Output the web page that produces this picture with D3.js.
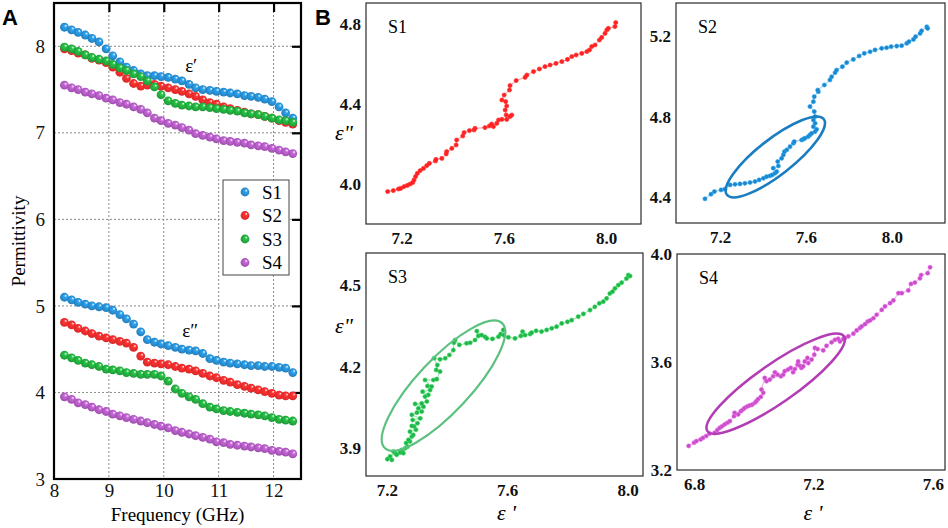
<!DOCTYPE html>
<html>
<head>
<meta charset="utf-8">
<script src="https://cdn.jsdelivr.net/npm/d3@7"></script>
<style>
  body { margin: 0; background: #fff; }
  svg { display: block; }
</style>
</head>
<body>
<script>
// ---- panel A data (frequency in GHz) ----
const freq = [8.19, 8.32, 8.44, 8.57, 8.69, 8.82, 8.95, 9.07, 9.20, 9.32, 9.45, 9.58, 9.70, 9.83, 9.95, 10.08, 10.21,
              10.33, 10.46, 10.58, 10.71, 10.84, 10.96, 11.09, 11.21, 11.34, 11.47, 11.59, 11.72, 11.84, 11.97, 12.10, 12.22, 12.35];

const s1Real = [8.22, 8.19, 8.16, 8.13, 8.09, 8.05, 7.97, 7.89, 7.82, 7.76, 7.72, 7.68, 7.66, 7.66, 7.65, 7.64, 7.62,
                7.60, 7.56, 7.52, 7.50, 7.49, 7.48, 7.47, 7.46, 7.45, 7.43, 7.42, 7.41, 7.39, 7.36, 7.30, 7.23, 7.17];
const s2Real = [7.97, 7.95, 7.92, 7.90, 7.86, 7.84, 7.81, 7.76, 7.70, 7.63, 7.57, 7.54, 7.55, 7.56, 7.54, 7.52, 7.50,
                7.48, 7.45, 7.42, 7.38, 7.35, 7.33, 7.30, 7.28, 7.26, 7.24, 7.22, 7.21, 7.19, 7.17, 7.14, 7.12, 7.10];
const s3Real = [7.99, 7.97, 7.94, 7.90, 7.87, 7.85, 7.83, 7.79, 7.75, 7.72, 7.68, 7.65, 7.60, 7.53, 7.44, 7.37, 7.34,
                7.32, 7.31, 7.30, 7.30, 7.29, 7.28, 7.27, 7.26, 7.25, 7.23, 7.22, 7.21, 7.19, 7.17, 7.15, 7.14, 7.12];
const s4Real = [7.55, 7.52, 7.50, 7.47, 7.45, 7.43, 7.40, 7.38, 7.35, 7.33, 7.30, 7.27, 7.23, 7.17, 7.14, 7.11, 7.09,
                7.06, 7.03, 6.99, 6.97, 6.95, 6.93, 6.91, 6.90, 6.89, 6.88, 6.86, 6.85, 6.84, 6.82, 6.80, 6.78, 6.76];

const s1Imag = [5.10, 5.07, 5.04, 5.02, 5.00, 4.99, 4.98, 4.95, 4.90, 4.85, 4.79, 4.70, 4.61, 4.58, 4.56, 4.54, 4.52,
                4.50, 4.49, 4.48, 4.45, 4.39, 4.37, 4.35, 4.34, 4.33, 4.32, 4.31, 4.31, 4.30, 4.30, 4.29, 4.28, 4.23];
const s2Imag = [4.81, 4.78, 4.74, 4.71, 4.68, 4.65, 4.63, 4.61, 4.59, 4.57, 4.52, 4.42, 4.35, 4.34, 4.33, 4.32, 4.30,
                4.28, 4.27, 4.25, 4.22, 4.19, 4.17, 4.14, 4.12, 4.09, 4.07, 4.05, 4.03, 4.01, 3.99, 3.97, 3.96, 3.96];
const s3Imag = [4.43, 4.40, 4.37, 4.34, 4.32, 4.30, 4.27, 4.26, 4.25, 4.23, 4.22, 4.21, 4.21, 4.21, 4.19, 4.13, 4.04,
                3.99, 3.95, 3.92, 3.87, 3.83, 3.81, 3.79, 3.78, 3.77, 3.76, 3.75, 3.74, 3.73, 3.71, 3.69, 3.68, 3.67];
const s4Imag = [3.95, 3.92, 3.88, 3.86, 3.83, 3.80, 3.78, 3.75, 3.73, 3.71, 3.69, 3.67, 3.65, 3.63, 3.61, 3.59, 3.56,
                3.54, 3.52, 3.50, 3.48, 3.46, 3.43, 3.42, 3.40, 3.39, 3.38, 3.37, 3.36, 3.35, 3.33, 3.32, 3.31, 3.29];

const seriesNames = ["S1", "S2", "S3", "S4"];
const aXTicks = [8, 9, 10, 11, 12];
const aYTicks = [3, 4, 5, 6, 7, 8];

// ---- panel B data: [eps', eps''] ----
const b1 = [[7.145,3.962],[7.167,3.967],[7.187,3.975],[7.196,3.978],[7.209,3.987],[7.222,3.993],[7.233,4.000],[7.243,4.007],
  [7.248,4.020],[7.254,4.037],[7.261,4.053],[7.272,4.067],[7.285,4.078],[7.298,4.092],[7.308,4.103],[7.332,4.115],[7.334,4.123],
  [7.357,4.128],[7.374,4.150],[7.376,4.162],[7.396,4.178],[7.413,4.195],[7.415,4.220],[7.439,4.240],[7.444,4.257],[7.465,4.267],
  [7.483,4.270],[7.487,4.278],[7.526,4.282],[7.543,4.290],[7.552,4.300],[7.559,4.287],[7.572,4.303],[7.579,4.320],[7.592,4.323],
  [7.611,4.323],[7.624,4.337],[7.631,4.345],[7.609,4.345],[7.605,4.370],[7.611,4.390],[7.607,4.412],[7.592,4.420],[7.601,4.445],
  [7.622,4.470],[7.624,4.492],[7.648,4.517],[7.683,4.533],[7.690,4.545],[7.716,4.562],[7.739,4.575],[7.761,4.587],[7.781,4.595],
  [7.804,4.603],[7.827,4.612],[7.849,4.623],[7.866,4.637],[7.883,4.645],[7.905,4.653],[7.925,4.662],[7.935,4.670],[7.944,4.687],
  [7.957,4.695],[7.974,4.720],[7.983,4.733],[7.996,4.753],[8.003,4.770],[8.009,4.778],[8.035,4.787],[8.038,4.807]];
const b2 = [[7.130,4.392],[7.158,4.415],[7.174,4.428],[7.205,4.436],[7.223,4.440],[7.247,4.461],[7.270,4.464],[7.293,4.466],
  [7.316,4.469],[7.340,4.473],[7.363,4.478],[7.382,4.486],[7.402,4.494],[7.417,4.502],[7.433,4.506],[7.444,4.511],[7.456,4.519],
  [7.464,4.527],[7.448,4.544],[7.472,4.555],[7.469,4.577],[7.487,4.593],[7.495,4.610],[7.500,4.626],[7.511,4.635],[7.526,4.651],
  [7.542,4.668],[7.546,4.676],[7.580,4.684],[7.588,4.688],[7.596,4.693],[7.611,4.701],[7.619,4.709],[7.627,4.717],[7.643,4.726],
  [7.650,4.737],[7.635,4.750],[7.643,4.767],[7.635,4.783],[7.643,4.800],[7.639,4.825],[7.619,4.850],[7.635,4.874],[7.639,4.899],
  [7.658,4.924],[7.655,4.932],[7.686,4.957],[7.712,4.982],[7.720,4.998],[7.736,5.018],[7.743,5.031],[7.770,5.048],[7.790,5.068],
  [7.821,5.084],[7.848,5.101],[7.872,5.114],[7.899,5.122],[7.922,5.131],[7.953,5.139],[7.976,5.142],[7.997,5.147],[8.023,5.150],
  [8.046,5.152],[8.070,5.164],[8.080,5.172],[8.101,5.183],[8.111,5.197],[8.132,5.213],[8.139,5.226],[8.163,5.246],[8.167,5.238]];
const b3 = [[7.202,3.860],[7.217,3.857],[7.211,3.870],[7.228,3.882],[7.222,3.888],[7.233,3.876],[7.244,3.884],[7.250,3.894],
  [7.255,3.882],[7.261,3.900],[7.269,3.906],[7.264,3.919],[7.277,3.925],[7.272,3.931],[7.283,3.943],[7.288,3.949],[7.277,3.961],
  [7.297,3.968],[7.291,3.980],[7.283,3.982],[7.302,3.992],[7.286,4.004],[7.311,4.010],[7.283,4.023],[7.300,4.031],[7.316,4.035],
  [7.305,4.047],[7.322,4.053],[7.294,4.063],[7.316,4.065],[7.333,4.072],[7.327,4.090],[7.338,4.096],[7.319,4.108],[7.344,4.114],
  [7.335,4.129],[7.349,4.127],[7.327,4.151],[7.355,4.151],[7.366,4.154],[7.377,4.182],[7.364,4.188],[7.368,4.206],[7.357,4.231],
  [7.377,4.227],[7.394,4.231],[7.408,4.243],[7.421,4.261],[7.423,4.288],[7.427,4.298],[7.441,4.280],[7.465,4.286],[7.477,4.288],
  [7.493,4.298],[7.504,4.313],[7.499,4.331],[7.515,4.316],[7.526,4.310],[7.532,4.304],[7.551,4.302],[7.571,4.310],[7.578,4.320],
  [7.587,4.335],[7.589,4.316],[7.604,4.308],[7.626,4.304],[7.645,4.313],[7.651,4.329],[7.659,4.316],[7.676,4.320],[7.681,4.325],
  [7.696,4.332],[7.714,4.329],[7.731,4.335],[7.748,4.341],[7.764,4.347],[7.781,4.359],[7.800,4.365],[7.814,4.371],[7.836,4.384],
  [7.853,4.394],[7.875,4.408],[7.891,4.420],[7.906,4.433],[7.919,4.439],[7.930,4.451],[7.941,4.469],[7.950,4.476],[7.958,4.488],
  [7.969,4.500],[7.980,4.509],[7.996,4.524],[8.002,4.537],[8.008,4.533]];
const b4 = [[6.782,3.289],[6.800,3.301],[6.808,3.307],[6.822,3.313],[6.830,3.319],[6.841,3.326],[6.852,3.335],[6.869,3.338],
  [6.878,3.348],[6.886,3.356],[6.894,3.362],[6.903,3.369],[6.912,3.375],[6.920,3.381],[6.934,3.399],[6.936,3.412],[6.948,3.406],
  [6.957,3.418],[6.964,3.424],[6.970,3.430],[6.979,3.436],[6.987,3.439],[6.995,3.442],[7.004,3.449],[7.009,3.455],[7.015,3.463],
  [7.024,3.471],[7.032,3.486],[7.026,3.498],[7.037,3.541],[7.043,3.529],[7.054,3.535],[7.065,3.547],[7.080,3.553],[7.071,3.562],
  [7.091,3.547],[7.099,3.553],[7.104,3.566],[7.115,3.572],[7.124,3.578],[7.132,3.562],[7.138,3.574],[7.147,3.590],[7.149,3.602],
  [7.155,3.586],[7.160,3.578],[7.166,3.584],[7.171,3.602],[7.180,3.615],[7.183,3.596],[7.194,3.609],[7.203,3.627],[7.205,3.652],
  [7.214,3.648],[7.233,3.643],[7.244,3.660],[7.261,3.673],[7.272,3.682],[7.283,3.686],[7.289,3.676],[7.300,3.685],[7.306,3.689],
  [7.317,3.695],[7.334,3.705],[7.345,3.717],[7.356,3.726],[7.362,3.732],[7.373,3.740],[7.382,3.750],[7.390,3.754],[7.401,3.762],
  [7.412,3.775],[7.429,3.793],[7.440,3.806],[7.457,3.818],[7.468,3.828],[7.485,3.855],[7.496,3.855],[7.518,3.865],[7.527,3.889],
  [7.540,3.894],[7.557,3.910],[7.561,3.922],[7.583,3.929],[7.591,3.951]];

const b1XTicks = [7.2, 7.6, 8.0], b1YTicks = [4.0, 4.4, 4.8];
const b2XTicks = [7.2, 7.6, 8.0], b2YTicks = [4.4, 4.8, 5.2];
const b3XTicks = [7.2, 7.6, 8.0], b3YTicks = [3.9, 4.2, 4.5];
const b4XTicks = [6.8, 7.2, 7.6], b4YTicks = [3.2, 3.6, 4.0];

// ellipse annotations: major axis end points in data units, minor/major ratio
const b2Ellipse = [[7.232, 4.412], [7.683, 4.788], 0.29];
const b3Ellipse = [[7.194, 3.900], [7.583, 4.360], 0.31];
const b4Ellipse = [[6.845, 3.344], [7.302, 3.695], 0.235];

const width = 948, height = 528;
const serif = "Liberation Serif, Times New Roman, Times, serif";
const sans = "Liberation Sans, Arial, sans-serif";

const svg = d3.select("body").append("svg")
    .attr("width", width)
    .attr("height", height)
    .attr("viewBox", `0 0 ${width} ${height}`);

const colorsA = ["#2688c9", "#ee2a2a", "#21a53b", "#a956b9"];
const colorsB = ["#ff2222", "#1e86c8", "#24b24a", "#c350c3"];

// sphere gradients for panel A
const defs = svg.append("defs");
colorsA.forEach((c, i) => {
  const g = defs.append("radialGradient").attr("id", "ball" + i)
      .attr("cx", "50%").attr("cy", "50%").attr("r", "55%")
      .attr("fx", "68%").attr("fy", "30%");
  g.append("stop").attr("offset", "0%").attr("stop-color", "#ffffff");
  g.append("stop").attr("offset", "30%").attr("stop-color", d3.color(c).brighter(0.5));
  g.append("stop").attr("offset", "100%").attr("stop-color", d3.color(c).darker(0.3));
});

// ================= panel A =================
const xA = d3.scaleLinear().domain([8, 12.5]).range([54, 301]);
const yA = d3.scaleLinear().domain([3, 8.5]).range([479, 3]);

const gA = svg.append("g");

// dotted grid
gA.selectAll("line.vgrid").data(aXTicks.slice(1)).enter().append("line")
    .attr("x1", d => xA(d)).attr("x2", d => xA(d))
    .attr("y1", yA.range()[1]).attr("y2", yA.range()[0])
    .attr("stroke", "#8a8a8a").attr("stroke-width", 1).attr("stroke-dasharray", "2,2");
gA.selectAll("line.hgrid").data(aYTicks.slice(1)).enter().append("line")
    .attr("x1", xA.range()[0]).attr("x2", xA.range()[1])
    .attr("y1", d => yA(d)).attr("y2", d => yA(d))
    .attr("stroke", "#8a8a8a").attr("stroke-width", 1).attr("stroke-dasharray", "2,2");

// axes
const axBottom = gA.append("g").attr("transform", `translate(0,${yA.range()[0]})`)
    .call(d3.axisBottom(xA).tickValues(aXTicks).tickSize(0).tickPadding(5).tickFormat(d3.format("d")));
const axLeft = gA.append("g").attr("transform", `translate(${xA.range()[0]},0)`)
    .call(d3.axisLeft(yA).tickValues(aYTicks).tickSize(0).tickPadding(9).tickFormat(d3.format("d")));
[axBottom, axLeft].forEach(a => {
  a.attr("font-family", serif).attr("font-size", 19);
  a.select(".domain").remove();
  a.selectAll("text").style("font-family", serif).style("font-size", "19px").attr("fill", "#111");
});
// inward ticks on top and right
gA.append("g").attr("transform", `translate(0,${yA.range()[1]})`)
    .call(d3.axisTop(xA).tickValues(aXTicks.slice(1)).tickSize(-9).tickFormat(""))
    .call(a => a.select(".domain").remove())
    .selectAll("line").attr("stroke", "#000").attr("stroke-width", 2.2);
gA.append("g").attr("transform", `translate(${xA.range()[1]},0)`)
    .call(d3.axisRight(yA).tickValues(aYTicks.slice(1)).tickSize(-9).tickFormat(""))
    .call(a => a.select(".domain").remove())
    .selectAll("line").attr("stroke", "#000").attr("stroke-width", 2.2);

// frame
gA.append("rect")
    .attr("x", xA.range()[0]).attr("y", yA.range()[1])
    .attr("width", xA.range()[1] - xA.range()[0]).attr("height", yA.range()[0] - yA.range()[1])
    .attr("fill", "none").attr("stroke", "#000").attr("stroke-width", 2.2);

// points
const realSeries = [s1Real, s2Real, s3Real, s4Real];
const imagSeries = [s1Imag, s2Imag, s3Imag, s4Imag];
[realSeries, imagSeries].forEach(group => {
  group.forEach((vals, si) => {
    gA.append("g").selectAll("circle").data(vals).enter().append("circle")
        .attr("cx", (d, i) => xA(freq[i]))
        .attr("cy", d => yA(d))
        .attr("r", 4.4)
        .attr("fill", `url(#ball${si})`);
  });
});

// annotations
gA.append("text").attr("x", xA(10.5)).attr("y", 72)
    .style("font-family", serif).style("font-size", "19px").attr("text-anchor", "middle").text("ε′");
gA.append("text").attr("x", xA(10.48)).attr("y", 337)
    .style("font-family", serif).style("font-size", "19px").attr("text-anchor", "middle").text("ε″");

// legend
const legend = gA.append("g").attr("transform", "translate(223,180)");
legend.append("rect").attr("width", 66).attr("height", 95)
    .attr("fill", "#fff").attr("stroke", "#444").attr("stroke-width", 1);
const items = legend.selectAll("g.item").data(seriesNames).enter().append("g")
    .attr("transform", (d, i) => `translate(0,${12 + i * 23.5})`);
items.append("circle").attr("cx", 22).attr("cy", 0).attr("r", 4.4)
    .attr("fill", (d, i) => `url(#ball${i})`);
items.append("text").attr("x", 39).attr("y", 6.5)
    .style("font-family", serif).style("font-size", "19px").text(d => d);

// axis titles
gA.append("text").attr("x", d3.mean(xA.range())).attr("y", 521)
    .attr("text-anchor", "middle").style("font-family", serif).style("font-size", "19px")
    .text("Frequency (GHz)");
gA.append("text").attr("transform", `translate(25,${d3.mean(yA.range())}) rotate(-90)`)
    .attr("text-anchor", "middle").style("font-family", serif).style("font-size", "19px")
    .text("Permittivity");

// panel letters
svg.append("text").attr("x", 2).attr("y", 25)
    .style("font-family", sans).style("font-weight", "bold").style("font-size", "22px").text("A");
svg.append("text").attr("x", 315).attr("y", 25)
    .style("font-family", sans).style("font-weight", "bold").style("font-size", "22px").text("B");

// ================= panel B =================
const subplots = [
  { name: "S1", data: b1, color: colorsB[0], box: [366, 641, 3, 224],   xd: [7.06, 8.137], yd: [3.80, 4.905],
    xt: b1XTicks, yt: b1YTicks, ellipse: null, yLabel: 140, xLabel: false },
  { name: "S2", data: b2, color: colorsB[1], box: [676, 945, 3, 223],   xd: [6.995, 8.248], yd: [4.272, 5.364],
    xt: b2XTicks, yt: b2YTicks, ellipse: b2Ellipse, ellColor: "#1a7dc0", ellW: 2.6, yLabel: null, xLabel: false },
  { name: "S3", data: b3, color: colorsB[2], box: [366, 643, 253, 476], xd: [7.131, 8.051], yd: [3.798, 4.618],
    xt: b3XTicks, yt: b3YTicks, ellipse: b3Ellipse, ellColor: "#5cc17f", ellW: 2.2, yLabel: 333, xLabel: true },
  { name: "S4", data: b4, color: colorsB[3], box: [677, 945, 254, 470], xd: [6.743, 7.641], yd: [3.20, 4.0],
    xt: b4XTicks, yt: b4YTicks, ellipse: b4Ellipse, ellColor: "#b23db4", ellW: 2.6, yLabel: null, xLabel: true }
];

subplots.forEach(p => {
  const [bx0, bx1, by0, by1] = p.box;
  const x = d3.scaleLinear().domain(p.xd).range([bx0, bx1]);
  const y = d3.scaleLinear().domain(p.yd).range([by1, by0]);
  const g = svg.append("g");

  g.append("rect").attr("x", bx0).attr("y", by0).attr("width", bx1 - bx0).attr("height", by1 - by0)
      .attr("fill", "none").attr("stroke", "#2a2a2a").attr("stroke-width", 1.2);

  const ax = g.append("g").attr("transform", `translate(0,${by1})`)
      .call(d3.axisBottom(x).tickValues(p.xt).tickSize(0).tickPadding(8).tickFormat(d3.format(".1f")));
  const ay = g.append("g").attr("transform", `translate(${bx0},0)`)
      .call(d3.axisLeft(y).tickValues(p.yt).tickSize(0).tickPadding(5).tickFormat(d3.format(".1f")));
  [ax, ay].forEach(a => {
    a.attr("font-family", serif).attr("font-size", 17);
    a.select(".domain").remove();
    a.selectAll("text").style("font-family", serif).style("font-size", "17px")
        .style("font-weight", "bold").attr("fill", "#111");
  });

  g.append("path").datum(p.data)
      .attr("d", d3.line().x(d => x(d[0])).y(d => y(d[1])))
      .attr("fill", "none").attr("stroke", p.color).attr("stroke-width", 0.7).attr("stroke-opacity", 0.7);
  g.selectAll("circle").data(p.data).enter().append("circle")
      .attr("cx", d => x(d[0])).attr("cy", d => y(d[1])).attr("r", 2.1)
      .attr("fill", p.color).attr("stroke", d3.color(p.color).brighter(0.6)).attr("stroke-width", 0.6);

  if (p.ellipse) {
    const [e0, e1, ratio] = p.ellipse;
    const ax0 = x(e0[0]), ay0 = y(e0[1]), ax1 = x(e1[0]), ay1 = y(e1[1]);
    const cx = (ax0 + ax1) / 2, cy = (ay0 + ay1) / 2;
    const rx = Math.hypot(ax1 - ax0, ay1 - ay0) / 2;
    const ang = Math.atan2(ay1 - ay0, ax1 - ax0) * 180 / Math.PI;
    g.append("ellipse").attr("cx", 0).attr("cy", 0).attr("rx", rx).attr("ry", rx * ratio)
        .attr("transform", `translate(${cx},${cy}) rotate(${ang})`)
        .attr("fill", "none").attr("stroke", p.ellColor).attr("stroke-width", p.ellW);
  }

  g.append("text").attr("x", bx0 + 22).attr("y", by0 + 30)
      .style("font-family", serif).style("font-size", "18px").text(p.name);

  if (p.yLabel) {
    g.append("text").attr("x", 353).attr("y", p.yLabel)
        .attr("text-anchor", "end").style("font-family", serif).style("font-style", "italic")
        .style("font-size", "22px").text("ε\"");
  }
  if (p.xLabel) {
    g.append("text").attr("x", (bx0 + bx1) / 2 + 2).attr("y", 520)
        .attr("text-anchor", "middle").style("font-family", serif).style("font-style", "italic")
        .style("font-size", "22px").text("ε '");
  }
});
</script>
</body>
</html>
